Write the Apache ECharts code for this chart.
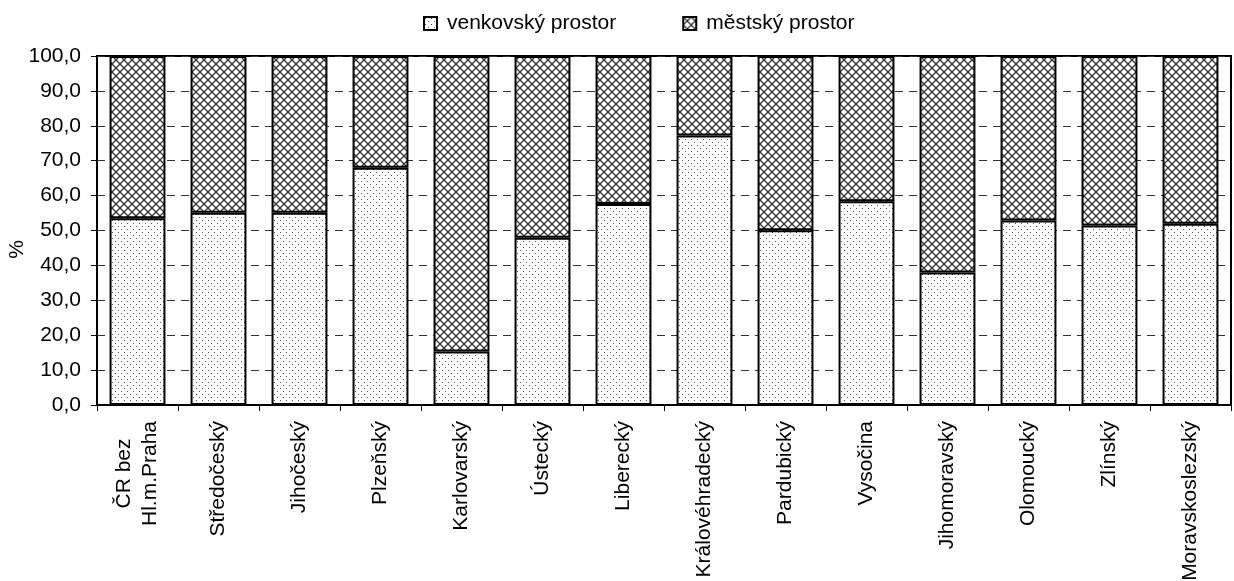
<!DOCTYPE html>
<html>
<head>
<meta charset="utf-8">
<script src="https://cdn.jsdelivr.net/npm/echarts@6/dist/echarts.min.js"></script>
<style>html,body{margin:0;padding:0;background:#fff}#c{width:1234px;height:581px}</style>
</head>
<body>
<div id="c"></div>
<script>
const categories = ['ČR bez\nHl.m.Praha', 'Středočeský', 'Jihočeský', 'Plzeňský', 'Karlovarský', 'Ústecký', 'Liberecký', 'Královéhradecký', 'Pardubický', 'Vysočina', 'Jihomoravský', 'Olomoucký', 'Zlínský', 'Moravskoslezský'];
const seriesNames = ['venkovský prostor', 'městský prostor'];
const venkovsky = [53.5, 55.1, 55.1, 68.0, 15.3, 47.9, 57.6, 77.2, 50.1, 58.4, 38.0, 52.9, 51.4, 51.9];
const mestsky = [46.5, 44.9, 44.9, 32.0, 84.7, 52.1, 42.4, 22.8, 49.9, 41.6, 62.0, 47.1, 48.6, 48.1];

function dotPattern() {
  const c = document.createElement('canvas');
  c.width = 6; c.height = 6;
  const g = c.getContext('2d');
  g.fillStyle = '#fff'; g.fillRect(0, 0, 6, 6);
  g.fillStyle = '#555';
  g.fillRect(1, 1, 1, 1);
  g.fillRect(4, 4, 1, 1);
  return c;
}
function hatchPattern() {
  const c = document.createElement('canvas');
  c.width = 8; c.height = 8;
  const g = c.getContext('2d');
  g.fillStyle = '#fff'; g.fillRect(0, 0, 8, 8);
  g.strokeStyle = '#333'; g.lineWidth = 1.3;
  g.beginPath();
  g.moveTo(0, 0); g.lineTo(8, 8);
  g.moveTo(8, 0); g.lineTo(0, 8);
  g.stroke();
  return c;
}

const font = 'Liberation Sans, Arial, sans-serif';
const fs = 21;
const chart = echarts.init(document.getElementById('c'), null, {renderer: 'canvas'});
chart.setOption({
  animation: false,
  backgroundColor: '#fff',
  textStyle: {fontFamily: font},
  legend: {
    left: 423, top: 13, padding: 0,
    itemWidth: 13, itemHeight: 13, itemGap: 66,
    icon: 'rect',
    textStyle: {fontSize: fs, color: '#000', fontFamily: font, padding: [0, 0, 0, 5]},
    data: seriesNames
  },
  grid: {
    left: 97, right: 3, top: 56, bottom: 176,
    outerBoundsMode: 'none', containLabel: false,
    show: true, borderColor: '#000', borderWidth: 2, backgroundColor: 'transparent'
  },
  xAxis: {
    type: 'category',
    data: categories,
    axisLine: {lineStyle: {color: '#000', width: 2}},
    axisTick: {show: true, length: 6, lineStyle: {color: '#000', width: 1}},
    axisLabel: {
      rotate: 90, margin: 16, color: '#000', fontSize: fs, fontFamily: font,
      lineHeight: 26, interval: 0,
      formatter: function (v) {
        const lines = v.split('\n');
        if (lines.length < 2) return v;
        return lines[0] + '   \n' + lines[1];
      }
    }
  },
  yAxis: {
    type: 'value', min: 0, max: 100, interval: 10,
    name: '%', nameLocation: 'middle', nameGap: 69, nameMoveOverlap: false,
    nameTextStyle: {fontSize: fs, color: '#000', fontFamily: font, padding: [0, 38, 0, 0]},
    axisLine: {show: true, lineStyle: {color: '#000', width: 2}},
    axisTick: {show: true, length: 6, lineStyle: {color: '#000', width: 1}},
    axisLabel: {margin: 16, color: '#000', fontSize: fs, fontFamily: font,
      formatter: v => v.toFixed(1).replace('.', ',')},
    splitLine: {show: true, lineStyle: {color: '#333', width: 1.2, type: [8, 6]}}
  },
  series: [
    {
      name: seriesNames[0], type: 'bar', stack: 's', data: venkovsky,
      barCategoryGap: '31%',
      itemStyle: {color: {image: dotPattern(), repeat: 'repeat'}, borderColor: '#000', borderWidth: 2}
    },
    {
      name: seriesNames[1], type: 'bar', stack: 's', data: mestsky,
      barCategoryGap: '31%',
      itemStyle: {color: {image: hatchPattern(), repeat: 'repeat'}, borderColor: '#000', borderWidth: 2}
    }
  ]
});
</script>
</body>
</html>
